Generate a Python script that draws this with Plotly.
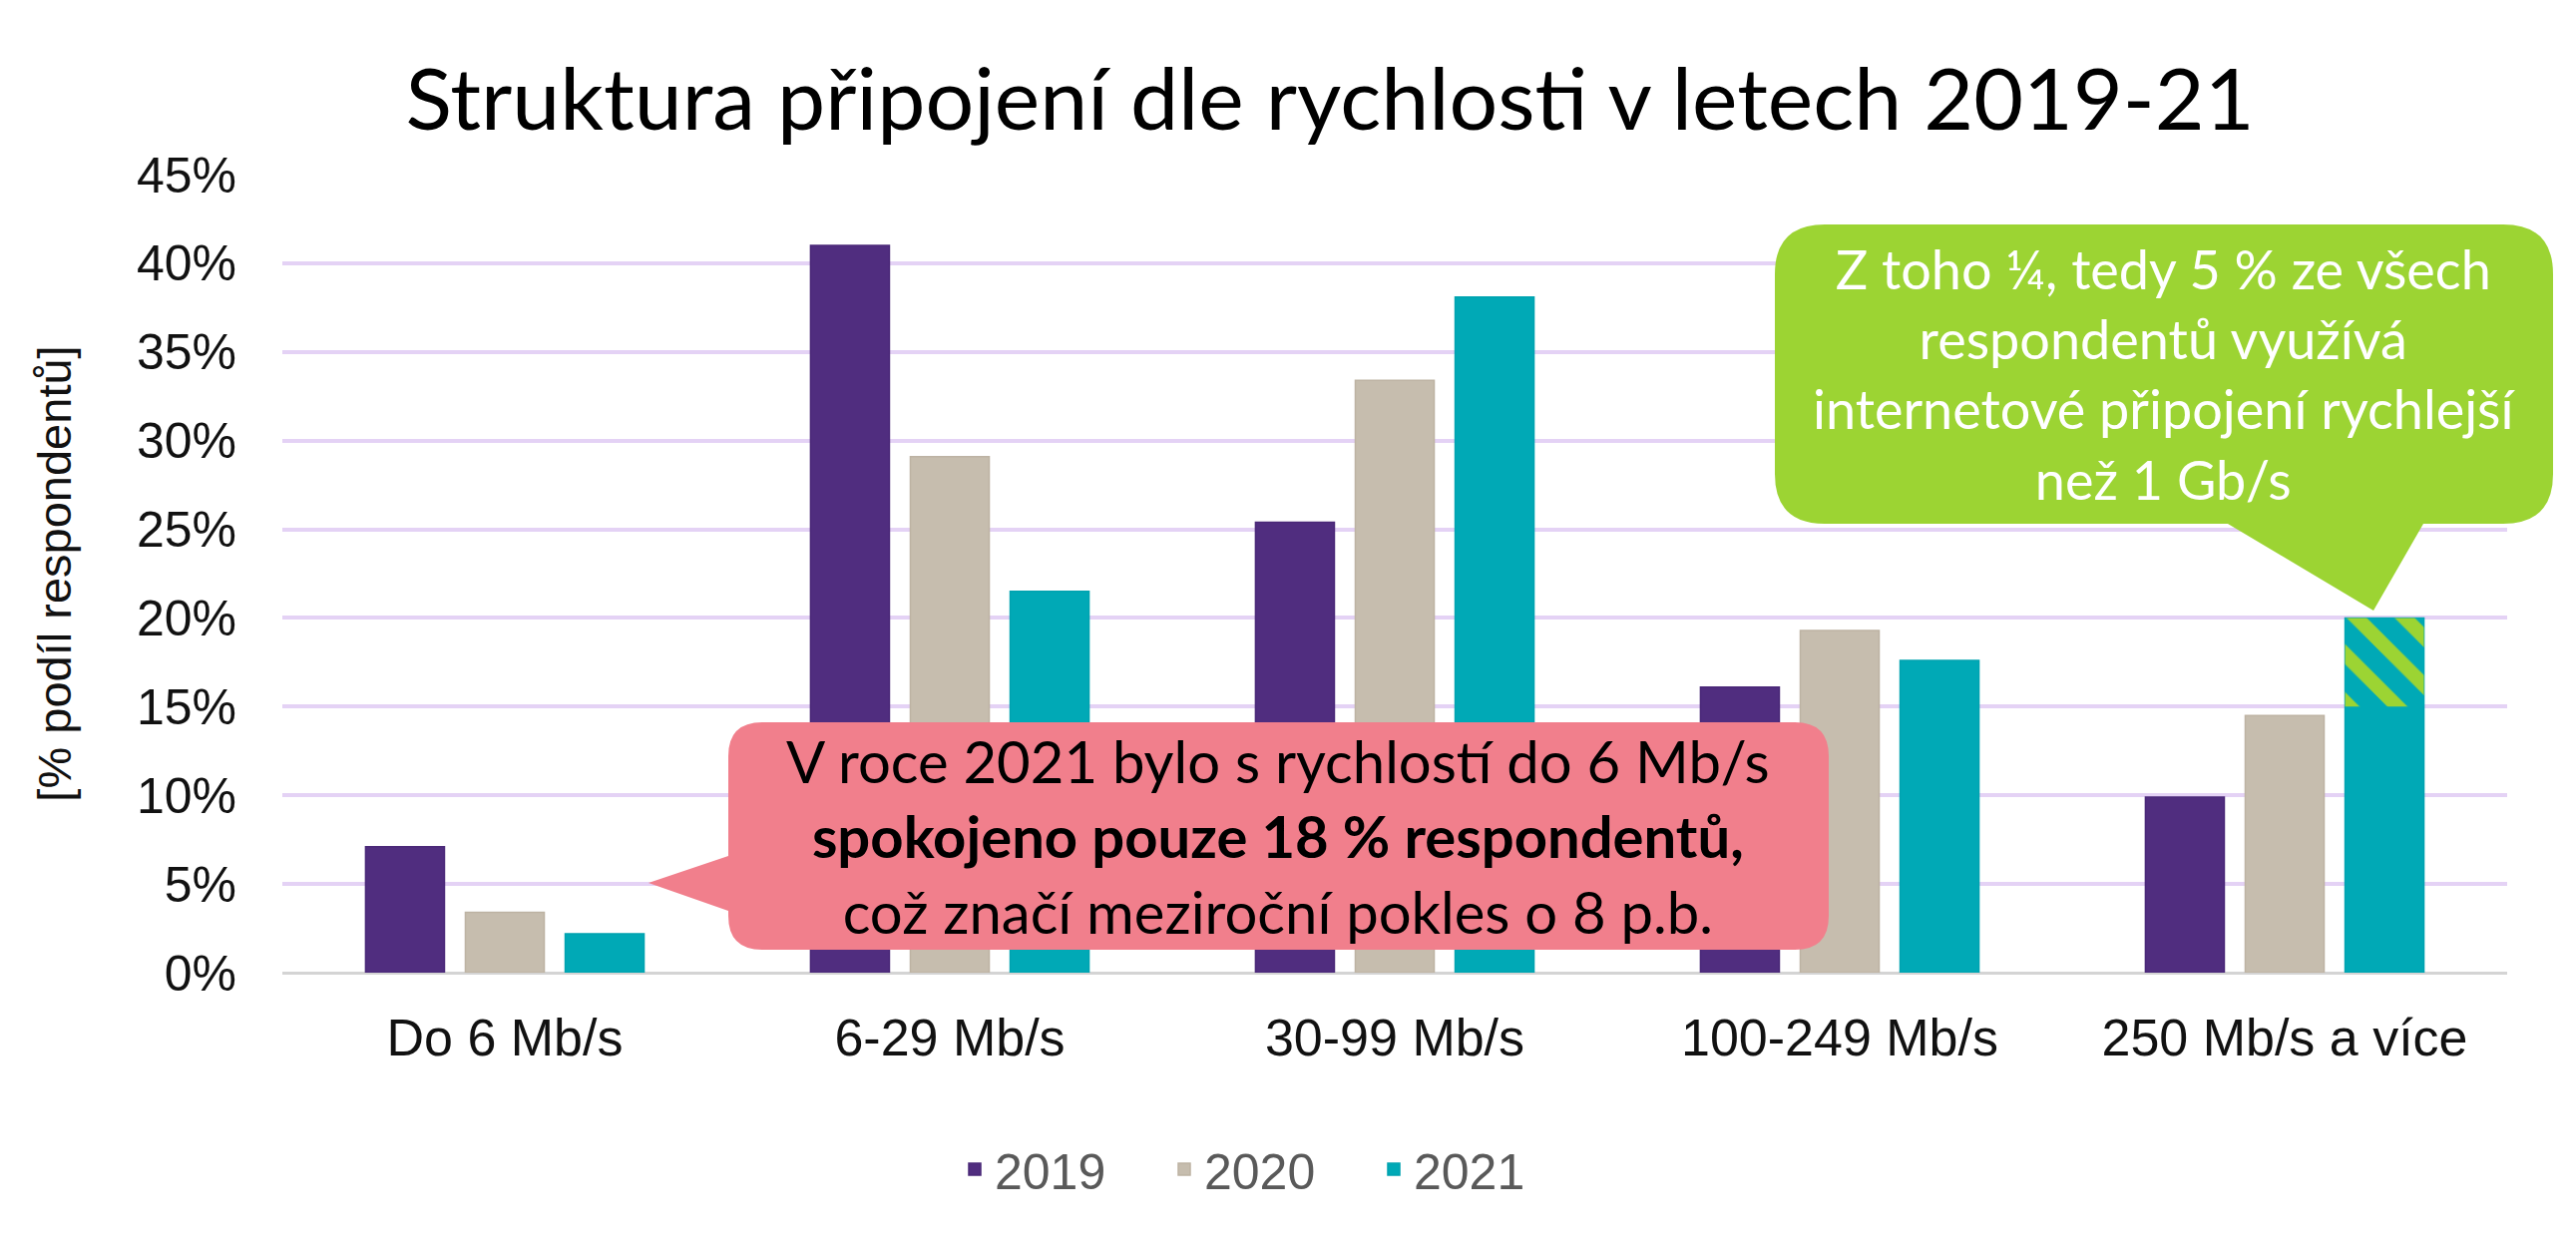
import plotly.graph_objects as go

# ---------------- data ----------------
categories = ["Do 6 Mb/s", "6-29 Mb/s", "30-99 Mb/s", "100-249 Mb/s", "250 Mb/s a více"]
years = ["2019", "2020", "2021"]
values_2019 = [7.1, 41.0, 25.4, 16.1, 9.9]
values_2020 = [3.4, 29.1, 33.4, 19.3, 14.5]
values_2021 = [2.2, 21.5, 38.1, 17.6, 20.0]
gbit_share_2021 = 5.0   # part of "250 Mb/s a více" (2021) faster than 1 Gb/s
y_ticks = [0, 5, 10, 15, 20, 25, 30, 35, 40, 45]
y_tick_labels = [f"{v}%" for v in y_ticks]

title_text = "Struktura připojení dle rychlosti v letech 2019-21"
y_title = "[% podíl respondentů]"
pink_text = ("V roce 2021 bylo s rychlostí do 6 Mb/s<br>"
             "<b>spokojeno pouze 18 % respondentů,</b><br>"
             "což značí meziroční pokles o 8 p.b.")
green_text = ("Z toho ¼, tedy 5 % ze všech<br>respondentů využívá<br>"
              "internetové připojení rychlejší<br>než 1 Gb/s")

# ---------------- style ----------------
W, H = 2582, 1258
PL, PR, PT, PB = 283, 2513, 175, 975  # plot area in pixels
C19, C20, C21 = "#502D7F", "#C6BDAE", "#00A9B6"
GREEN, PINK = "#9CD433", "#F17F8C"
FONT = "Lato"
TICKFONT = "Liberation Sans"


def px(x):
    return (x - PL) / (PR - PL)


def py(y):
    return (PB - y) / (PB - PT)


def path(points_cmds):
    out = []
    for c in points_cmds:
        if isinstance(c, str):
            out.append(c)
        else:
            out.append(f"{px(c[0]):.5f},{py(c[1]):.5f}")
    return " ".join(out)


def rounded_box(x0, y0, x1, y1, r, pointer):
    side, pts = pointer
    cmds = ["M", (x0 + r, y0), "L", (x1 - r, y0), "Q", (x1, y0), (x1, y0 + r),
            "L", (x1, y1 - r), "Q", (x1, y1), (x1 - r, y1)]
    if side == "bottom":
        for p in pts:
            cmds += ["L", p]
    cmds += ["L", (x0 + r, y1), "Q", (x0, y1), (x0, y1 - r)]
    if side == "left":
        for p in pts:
            cmds += ["L", p]
    cmds += ["L", (x0, y0 + r), "Q", (x0, y0), (x0 + r, y0), "Z"]
    return path(cmds)


fig = go.Figure()
for name, vals, col, line in [("2019", values_2019, C19, "#4A2878"),
                              ("2020", values_2020, C20, "#BDB3A3"),
                              ("2021", values_2021, C21, "#00A3B0")]:
    fig.add_trace(go.Bar(x=categories, y=vals, name=name, offsetgroup=name,
                         marker=dict(color=col, line=dict(color=line, width=1.5))))

# hatched top quarter of the last 2021 bar
fig.add_trace(go.Bar(
    x=[categories[-1]], y=[gbit_share_2021], base=[values_2021[-1] - gbit_share_2021],
    offsetgroup="2021", showlegend=False, name="> 1 Gb/s",
    marker=dict(color=C21, line=dict(width=0),
                pattern=dict(shape="\\", fgcolor=GREEN, bgcolor=C21, size=34,
                             solidity=0.42, fillmode="replace"))))

shapes = [
    dict(type="path", xref="paper", yref="paper", layer="above",
         path=rounded_box(730, 724, 1833, 952, 34, ("left", [(730, 913), (650, 885), (730, 858)])),
         fillcolor=PINK, line=dict(width=0)),
    dict(type="path", xref="paper", yref="paper", layer="above",
         path=rounded_box(1779, 225, 2559, 525, 50, ("bottom", [(2429, 525), (2379, 612), (2233, 525)])),
         fillcolor=GREEN, line=dict(width=0)),
]

annotations = [
    dict(xref="paper", yref="paper", x=px(1281), y=py(838), text=pink_text, showarrow=False,
         font=dict(family=FONT, size=58, color="#000000"), align="center",
         xanchor="center", yanchor="middle"),
    dict(xref="paper", yref="paper", x=px(2169), y=py(375), text=green_text, showarrow=False,
         font=dict(family=FONT, size=54, color="#FFFFFF"), align="center",
         xanchor="center", yanchor="middle"),
]

fig.update_layout(
    width=W, height=H,
    margin=dict(l=PL, r=W - PR, t=PT, b=H - PB, autoexpand=False),
    paper_bgcolor="white", plot_bgcolor="white",
    barmode="group", bargap=0.327, bargroupgap=0.21,
    title=dict(text=title_text, x=1333 / W, xanchor="center", y=1 - 100 / H, yanchor="middle",
               xref="container", yref="container",
               font=dict(family=FONT, size=86, color="#000000")),
    legend=dict(orientation="h", x=px(1272), y=py(1172), xanchor="center", yanchor="middle",
                font=dict(family=TICKFONT, size=50, color="#595959"), traceorder="normal",
                entrywidth=165, itemwidth=30),
    shapes=shapes, annotations=annotations,
    font=dict(family=TICKFONT),
)
fig.update_yaxes(range=[0, 45], tickvals=y_ticks, ticktext=y_tick_labels, showgrid=True,
                 gridcolor="#E4D2F5", gridwidth=4, zeroline=True, zerolinecolor="#D4D4D4",
                 zerolinewidth=3, tickfont=dict(family=TICKFONT, size=50, color="#111111"),
                 ticklabelstandoff=45, automargin=False,
                 title=dict(text=y_title, standoff=50,
                            font=dict(family=TICKFONT, size=47, color="#111111")))
fig.update_xaxes(tickfont=dict(family=TICKFONT, size=52, color="#111111"), ticklabelstandoff=30,
                 showline=False, automargin=False)

fig.write_html("out.html")
